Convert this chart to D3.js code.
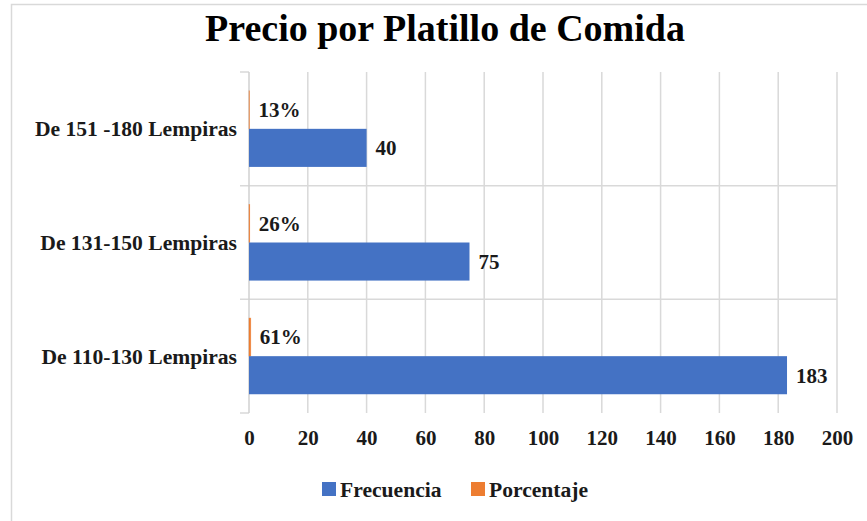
<!DOCTYPE html>
<html><head><meta charset="utf-8">
<script src="https://cdn.jsdelivr.net/npm/d3@7"></script>
<style>
html,body{margin:0;padding:0;background:#fff;}
svg{display:block;font-family:"Liberation Serif","Times New Roman",serif;font-weight:bold;}
</style></head>
<body>
<svg id="chart" width="867" height="521"></svg>
<script>
const title = "Precio por Platillo de Comida";
const categories = ["De 151 -180 Lempiras", "De 131-150 Lempiras", "De 110-130 Lempiras"];
const seriesNames = ["Frecuencia", "Porcentaje"];
const frecuencia = [40, 75, 183];
const porcentaje = [0.13, 0.26, 0.61];
const porcentajeLabels = ["13%", "26%", "61%"];
const xTicks = [0, 20, 40, 60, 80, 100, 120, 140, 160, 180, 200];
const colors = {Frecuencia: "#4472C4", Porcentaje: "#ED7D31"};

const svg = d3.select("#chart");
const W = 867, H = 521;
const m = {left: 249, right: 30, top: 72, bottom: 108};

// outer frame (left + top)
svg.append("path").attr("d", `M11.5,${H} V4.5 H${W}`)
  .attr("fill", "none").attr("stroke", "#d9d9d9").attr("stroke-width", 1.5);

svg.append("text").attr("x", 445).attr("y", 41).attr("text-anchor", "middle")
  .attr("font-size", 38).attr("fill", "#000").text(title);

const x = d3.scaleLinear().domain([0, 200]).range([m.left, 837]);
const y = d3.scaleBand().domain(categories).range([m.top, H - m.bottom])
  .paddingInner(0.33).paddingOuter(0.165);
const yStep = y.step();
const sub = d3.scaleBand().domain(["Porcentaje", "Frecuencia"]).range([0, y.bandwidth()]);

// vertical gridlines
svg.append("g").selectAll("line").data(xTicks.slice(1)).join("line")
  .attr("x1", d => x(d)).attr("x2", d => x(d))
  .attr("y1", m.top).attr("y2", H - m.bottom)
  .attr("stroke", "#d9d9d9").attr("stroke-width", 1.5);

// category boundaries
const bounds = d3.range(categories.length + 1).map(i => m.top + i * yStep);
svg.append("g").selectAll("line").data(bounds).join("line")
  .attr("x1", 240).attr("x2", (d, i) => (i === 0 || i === categories.length) ? m.left : x(200))
  .attr("y1", d => d).attr("y2", d => d)
  .attr("stroke", "#d9d9d9").attr("stroke-width", 1.5);

// y axis line
svg.append("line").attr("x1", m.left).attr("x2", m.left)
  .attr("y1", m.top).attr("y2", H - m.bottom)
  .attr("stroke", "#d0d0d0").attr("stroke-width", 1.5);

// bars
const g = svg.append("g");
categories.forEach((c, i) => {
  const y0 = y(c);
  g.append("rect").attr("x", x(0)).attr("y", y0 + sub("Porcentaje"))
    .attr("width", x(porcentaje[i]) - x(0)).attr("height", sub.bandwidth())
    .attr("fill", colors.Porcentaje)
    .attr("stroke", colors.Porcentaje).attr("stroke-width", 0.6).attr("stroke-opacity", 0.7);
  g.append("rect").attr("x", x(0)).attr("y", y0 + sub("Frecuencia"))
    .attr("width", x(frecuencia[i]) - x(0)).attr("height", sub.bandwidth())
    .attr("fill", colors.Frecuencia);
  g.append("text").attr("x", x(porcentaje[i]) + 9)
    .attr("y", y0 + sub("Porcentaje") + sub.bandwidth() / 2)
    .attr("dy", "0.35em").attr("font-size", 21).attr("fill", "#1a1a1a")
    .text(porcentajeLabels[i]);
  g.append("text").attr("x", x(frecuencia[i]) + 9)
    .attr("y", y0 + sub("Frecuencia") + sub.bandwidth() / 2)
    .attr("dy", "0.35em").attr("font-size", 21).attr("fill", "#1a1a1a")
    .text(frecuencia[i]);
});

// category labels
svg.append("g").selectAll("text").data(categories).join("text")
  .attr("x", 237).attr("y", d => y(d) + y.bandwidth() / 2)
  .attr("dy", "0.35em").attr("text-anchor", "end").attr("font-size", 21.6).attr("fill", "#1a1a1a")
  .text(d => d);

// x tick labels
const xAxis = d3.axisBottom(x).tickValues(xTicks).tickSize(0).tickPadding(17);
const ax = svg.append("g").attr("transform", `translate(0,${H - m.bottom})`).call(xAxis);
ax.select(".domain").remove();
ax.selectAll("text").attr("font-size", 21).attr("font-family", "Liberation Serif")
  .attr("font-weight", "bold").attr("fill", "#1a1a1a");

// legend
const legend = svg.append("g");
const lx = [322, 471];
seriesNames.forEach((s, i) => {
  legend.append("rect").attr("x", lx[i]).attr("y", 482).attr("width", 14).attr("height", 14)
    .attr("fill", colors[s]);
  legend.append("text").attr("x", lx[i] + 18).attr("y", 489).attr("dy", "0.35em")
    .attr("font-size", 21.6).attr("fill", "#1a1a1a").text(s);
});
</script>
</body></html>
